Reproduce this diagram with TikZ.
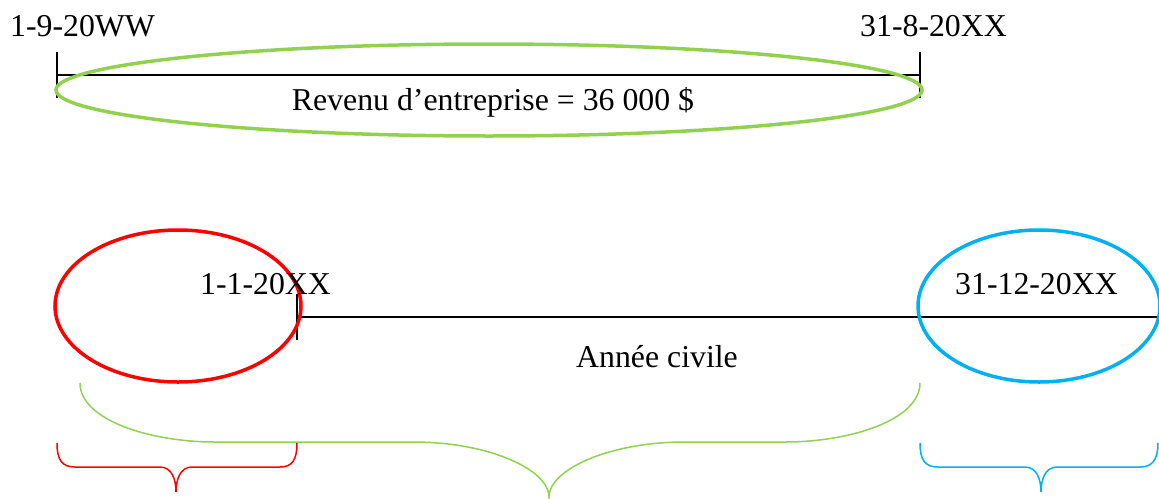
\documentclass[tikz,border=0pt]{standalone}
\usepackage{fontspec}
\setmainfont{Liberation Serif}
\definecolor{lgreen}{HTML}{92D050}
\definecolor{cred}{HTML}{FF0000}
\definecolor{cblue}{HTML}{00B0F0}
\begin{document}
\begin{tikzpicture}[x=1pt,y=-1pt,
  lbl/.style={inner sep=0pt,font=\fontsize{31.8}{38}\selectfont},
  axis/.style={black,line width=1.6pt},
  ring/.style={line width=3.5pt},
  brace/.style={line width=1.5pt}]
\useasboundingbox (0,0) rectangle (1159,498);
% top timeline
\coordinate (t1a) at (57,52); \coordinate (t1b) at (57,98);
\coordinate (t2a) at (920,52); \coordinate (t2b) at (920,98);
\coordinate (l1) at (57,75); \coordinate (l2) at (920,75);
\draw[axis] (t1a) -- (t1b);
\draw[axis] (t2a) -- (t2b);
\draw[axis] (l1) -- (l2);
\draw[lgreen,ring] (489,90) ellipse [x radius=433, y radius=46];
\node[lbl,anchor=base west] (d1) at (10,36) {1-9-20WW};
\node[lbl,anchor=base west] (d2) at (860,36) {31-8-20XX};
\node[lbl,anchor=base] (rev) at (493,110) {Revenu d’entreprise = 36 000 \$};
% bottom timeline
\coordinate (t3a) at (297,294); \coordinate (t3b) at (297,340);
\coordinate (l3) at (297,317); \coordinate (l4) at (1159,317);
\draw[axis] (t3a) -- (t3b);
\draw[axis] (l3) -- (l4);
\draw[cred,ring] (178,306) ellipse [x radius=123, y radius=76];
\draw[cblue,ring] (1039,306) ellipse [x radius=121, y radius=76];
\node[lbl,anchor=base west] (d3) at (200,294) {1-1-20XX};
\node[lbl,anchor=base west] (d4) at (955,294) {31-12-20XX};
\node[lbl,anchor=base] (ac) at (657,367) {Année civile};
% green brace
\draw[lgreen,brace] (80,383) .. controls (80,420) and (150,442) .. (215,442) -- (413,442)
  .. controls (490,442) and (549,470) .. (549,497)
  .. controls (549,470) and (608,442) .. (685,442) -- (785,442)
  .. controls (850,442) and (920,420) .. (920,383);
% red brace
\draw[cred,brace] (57,443) .. controls (57,460) and (62,467) .. (75,467) -- (160,467)
  .. controls (172,467) and (176,480) .. (176,492)
  .. controls (176,480) and (180,467) .. (192,467) -- (280,467)
  .. controls (292,467) and (297,460) .. (297,443);
% blue brace
\draw[cblue,brace] (920,443) .. controls (920,460) and (925,467) .. (938,467) -- (1025,467)
  .. controls (1037,467) and (1041,480) .. (1041,492)
  .. controls (1041,480) and (1045,467) .. (1057,467) -- (1140,467)
  .. controls (1152,467) and (1158,460) .. (1158,443);
\end{tikzpicture}
\end{document}
